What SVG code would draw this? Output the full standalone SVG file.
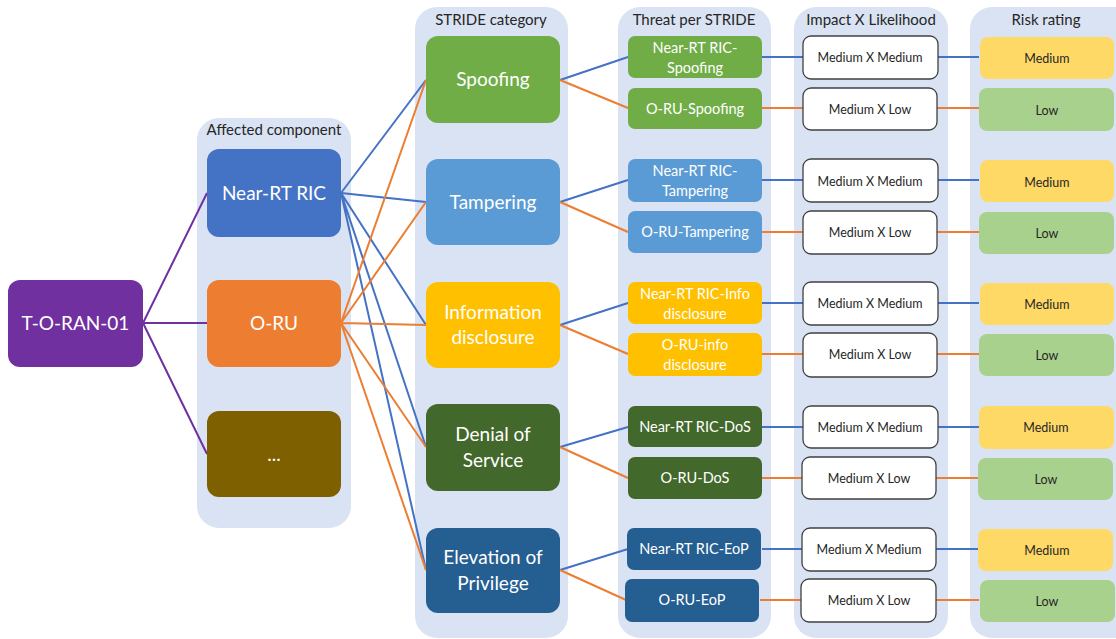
<svg xmlns="http://www.w3.org/2000/svg" width="1116" height="639" viewBox="0 0 1116 639">
<style>
.panel{fill:#DAE3F3}
.ptitle{font-family:Lato,"Liberation Sans",sans-serif;font-size:15px;fill:#262626;text-anchor:middle}
.big{font-family:Lato,"Liberation Sans",sans-serif;font-size:19px;fill:#fff;text-anchor:middle}
.mid{font-family:Lato,"Liberation Sans",sans-serif;font-size:14.5px;fill:#fff;text-anchor:middle}
.sm{font-family:Lato,"Liberation Sans",sans-serif;font-size:12.5px;fill:#262626;text-anchor:middle}
.imp{fill:#fff;stroke:#404040;stroke-width:1.3}
.med{fill:#FFD966}
.low{fill:#A9D18E}
.c{fill:none;stroke-width:2}
.pu{stroke:#7030A0}
.bl{stroke:#4472C4}
.or{stroke:#ED7D31}
</style>
<rect width="1116" height="639" fill="#fff"/>
<g id="panels">
<rect class="panel" x="197" y="118" width="154" height="410" rx="22"/>
<rect class="panel" x="415" y="7" width="153" height="631" rx="22"/>
<rect class="panel" x="618" y="7" width="153" height="631" rx="22"/>
<rect class="panel" x="794" y="7" width="154" height="631" rx="22"/>
<rect class="panel" x="970" y="7" width="170" height="631" rx="22"/>
<text class="ptitle" x="274" y="135">Affected component</text>
<text class="ptitle" x="491" y="25">STRIDE category</text>
<text class="ptitle" x="694" y="25">Threat per STRIDE</text>
<text class="ptitle" x="871" y="25">Impact X Likelihood</text>
<text class="ptitle" x="1046" y="25">Risk rating</text>
</g>
<g id="connectors">
<path class="c pu" d="M143 323L207 193M143 323L207 323M143 323L207 454"/>
<path class="c bl" d="M341 193L426 80M341 193L426 202M341 193L426 325M341 193L426 447M341 193L426 570"/>
<path class="c or" d="M341 323L426 80M341 323L426 202M341 323L426 325M341 323L426 447M341 323L426 570"/>
<path class="c bl" d="M560 80L628 57M560 202L628 180M560 325L628 303M560 447L628 427M560 570L628 549"/>
<path class="c or" d="M560 80L628 108M560 202L628 232M560 325L628 354M560 447L628 478M560 570L626 600"/>
<path class="c bl" d="M762 57L979 57M762 180L979 180M762 303L979 303M762 427L979 427M762 549L979 549"/>
<path class="c or" d="M762 108L979 108M762 232L979 232M762 354L979 354M762 478L979 478M760 600L979 600"/>
</g>
<g id="t-o-ran-01"><rect x="8" y="280" width="135" height="87" rx="12" fill="#7030A0"/><text class="big" x="75.5" y="330">T-O-RAN-01</text></g>
<g id="near-rt-ric"><rect x="207" y="149" width="134" height="88" rx="12" fill="#4472C4"/><text class="big" x="274" y="200">Near-RT RIC</text></g>
<g id="o-ru"><rect x="207" y="280" width="134" height="87" rx="12" fill="#ED7D31"/><text class="big" x="274" y="330">O-RU</text></g>
<g id="other"><rect x="207" y="411" width="134" height="86" rx="12" fill="#7F6000"/><text class="big" x="274" y="461">...</text></g>
<g id="spoofing"><rect x="426" y="36" width="134" height="87" rx="12" fill="#70AD47"/><text class="big" x="493" y="86">Spoofing</text></g>
<g id="tampering"><rect x="426" y="159" width="134" height="86" rx="12" fill="#5B9BD5"/><text class="big" x="493" y="209">Tampering</text></g>
<g id="info"><rect x="426" y="282" width="134" height="86" rx="12" fill="#FFC000"/><text class="big" x="493" y="319">Information</text><text class="big" x="493" y="344">disclosure</text></g>
<g id="dos"><rect x="426" y="404" width="134" height="87" rx="12" fill="#43682B"/><text class="big" x="493" y="441">Denial of</text><text class="big" x="493" y="467">Service</text></g>
<g id="eop"><rect x="426" y="528" width="134" height="85" rx="12" fill="#255E91"/><text class="big" x="493" y="564">Elevation of</text><text class="big" x="493" y="590">Privilege</text></g>
<g id="t1"><rect x="628" y="36" width="134" height="42" rx="7" fill="#70AD47"/><text class="mid" x="695" y="53">Near-RT RIC-</text><text class="mid" x="695" y="73">Spoofing</text></g>
<g id="t2"><rect x="628" y="88" width="134" height="41" rx="7" fill="#70AD47"/><text class="mid" x="695" y="114">O-RU-Spoofing</text></g>
<g id="t3"><rect x="628" y="159" width="134" height="43" rx="7" fill="#5B9BD5"/><text class="mid" x="695" y="176">Near-RT RIC-</text><text class="mid" x="695" y="196">Tampering</text></g>
<g id="t4"><rect x="628" y="211" width="134" height="42" rx="7" fill="#5B9BD5"/><text class="mid" x="695" y="237">O-RU-Tampering</text></g>
<g id="t5"><rect x="628" y="282" width="134" height="42" rx="7" fill="#FFC000"/><text class="mid" x="695" y="299">Near-RT RIC-Info</text><text class="mid" x="695" y="319">disclosure</text></g>
<g id="t6"><rect x="628" y="333" width="134" height="43" rx="7" fill="#FFC000"/><text class="mid" x="695" y="350">O-RU-info</text><text class="mid" x="695" y="370">disclosure</text></g>
<g id="t7"><rect x="628" y="406" width="134" height="41" rx="7" fill="#43682B"/><text class="mid" x="695" y="432">Near-RT RIC-DoS</text></g>
<g id="t8"><rect x="628" y="457" width="134" height="42" rx="7" fill="#43682B"/><text class="mid" x="695" y="483">O-RU-DoS</text></g>
<g id="t9"><rect x="627" y="528" width="134" height="42" rx="7" fill="#255E91"/><text class="mid" x="694" y="554">Near-RT RIC-EoP</text></g>
<g id="t10"><rect x="625" y="579" width="134" height="43" rx="7" fill="#255E91"/><text class="mid" x="692" y="605">O-RU-EoP</text></g>
<g id="i1"><rect class="imp" x="803" y="36" width="135" height="43" rx="8"/><text class="sm" x="870" y="62">Medium X Medium</text></g>
<g id="i2"><rect class="imp" x="803" y="88" width="134" height="42" rx="8"/><text class="sm" x="870" y="114">Medium X Low</text></g>
<g id="i3"><rect class="imp" x="803" y="159" width="135" height="43" rx="8"/><text class="sm" x="870" y="186">Medium X Medium</text></g>
<g id="i4"><rect class="imp" x="803" y="211" width="134" height="43" rx="8"/><text class="sm" x="870" y="237">Medium X Low</text></g>
<g id="i5"><rect class="imp" x="803" y="282" width="135" height="43" rx="8"/><text class="sm" x="870" y="308">Medium X Medium</text></g>
<g id="i6"><rect class="imp" x="803" y="333" width="134" height="44" rx="8"/><text class="sm" x="870" y="359">Medium X Low</text></g>
<g id="i7"><rect class="imp" x="803" y="406" width="135" height="42" rx="8"/><text class="sm" x="870" y="432">Medium X Medium</text></g>
<g id="i8"><rect class="imp" x="802" y="457" width="134" height="42" rx="8"/><text class="sm" x="869" y="483">Medium X Low</text></g>
<g id="i9"><rect class="imp" x="802" y="528" width="134" height="43" rx="8"/><text class="sm" x="869" y="554">Medium X Medium</text></g>
<g id="i10"><rect class="imp" x="801" y="579" width="135" height="43" rx="8"/><text class="sm" x="869" y="605">Medium X Low</text></g>
<g id="r1"><rect class="med" x="980" y="37" width="134" height="42" rx="8"/><text class="sm" x="1047" y="63">Medium</text></g>
<g id="r2"><rect class="low" x="979" y="88" width="135" height="43" rx="8"/><text class="sm" x="1047" y="115">Low</text></g>
<g id="r3"><rect class="med" x="980" y="160" width="134" height="42" rx="8"/><text class="sm" x="1047" y="187">Medium</text></g>
<g id="r4"><rect class="low" x="979" y="212" width="135" height="42" rx="8"/><text class="sm" x="1047" y="238">Low</text></g>
<g id="r5"><rect class="med" x="980" y="283" width="134" height="42" rx="8"/><text class="sm" x="1047" y="309">Medium</text></g>
<g id="r6"><rect class="low" x="979" y="334" width="135" height="42" rx="8"/><text class="sm" x="1047" y="360">Low</text></g>
<g id="r7"><rect class="med" x="979" y="406" width="135" height="43" rx="8"/><text class="sm" x="1046" y="432">Medium</text></g>
<g id="r8"><rect class="low" x="978" y="458" width="135" height="42" rx="8"/><text class="sm" x="1046" y="484">Low</text></g>
<g id="r9"><rect class="med" x="978" y="529" width="135" height="42" rx="8"/><text class="sm" x="1047" y="555">Medium</text></g>
<g id="r10"><rect class="low" x="980" y="580" width="135" height="42" rx="8"/><text class="sm" x="1047" y="606">Low</text></g>
</svg>
